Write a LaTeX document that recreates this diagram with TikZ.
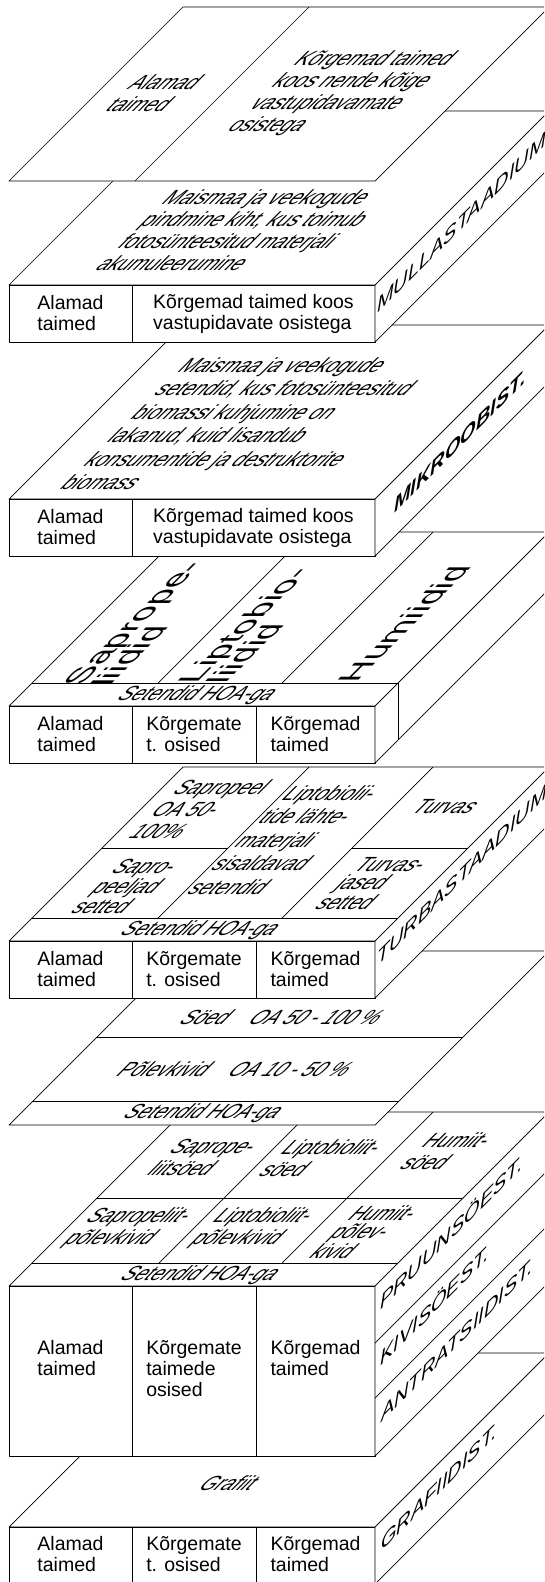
\documentclass[tikz,border=0pt]{standalone}
\usepackage{fontspec}
\setmainfont{Liberation Sans}
\usetikzlibrary{positioning}

\tikzset{
  face/.style={draw=black,fill=white,line width=0.7pt,line join=round},
  edge/.style={draw=black,line width=0.7pt},
  celltxt/.style={font=\fontsize{19.5}{21}\selectfont,align=left,inner sep=0pt},
  toptxt/.style={transform shape,xslant=1,yscale=1.05,font=\fontsize{19.5}{21}\selectfont,
    align=left,inner sep=0pt,anchor=north west},
  toptxtc/.style={toptxt,anchor=center},
  sidetxt/.style={transform shape,yslant=1,font=\fontsize{20}{22}\selectfont\itshape,
    inner sep=0pt,anchor=base west},
  bigtxt/.style={transform shape,cm={1,1,-1,0,(0,0)},font=\fontsize{30}{29}\selectfont,
    align=left,inner sep=0pt}
}

\begin{document}
\begin{tikzpicture}[x=1pt,y=1pt]
\useasboundingbox (0,0) rectangle (544,-1582);
\clip (0,0) rectangle (544,-1582);

% grafiidistaadium
\filldraw[face] (9,-1527) -- (375,-1527) -- (549,-1353) -- (183,-1353) -- cycle;
\filldraw[face] (9,-1527) rectangle (375,-1584);
\filldraw[face] (375,-1527) -- (549,-1353) -- (549,-1410) -- (375,-1584) -- cycle;
\draw[edge] (132,-1527) -- (132,-1584) (256,-1527) -- (256,-1584);
\path (230,-1483) node[toptxtc] (grafiit) {Grafiit};
\path (70.5,-1554) node[celltxt] (g1) {Alamad\\taimed};
\path (194,-1554) node[celltxt] (g2) {Kõrgemate\\t. osised};
\path (315.5,-1554) node[celltxt] (g3) {Kõrgemad\\taimed};
\path (381,-1552) node[sidetxt] (grafst) {GRAFIIDIST.};

% soed
\filldraw[face] (9,-1286) -- (375,-1286) -- (549,-1112) -- (183,-1112) -- cycle;
\filldraw[face] (9,-1286) rectangle (375,-1456);
\filldraw[face] (375,-1286) -- (549,-1112) -- (549,-1282) -- (375,-1456) -- cycle;
\draw[edge] (32,-1263) -- (398,-1263);
\draw[edge] (97,-1198) -- (463,-1198);
\draw[edge] (159,-1263) -- (310,-1112) (282,-1263) -- (433,-1112);
\draw[edge] (132,-1286) -- (132,-1456) (256,-1286) -- (256,-1456);
\draw[edge] (375,-1343) -- (549,-1169) (375,-1398) -- (549,-1224);
\path (182,-1139) node[toptxt] (s1) {Saprope-\\liitsöed};
\path (294,-1139) node[toptxt] (s2) {Liptobioliit-\\söed};
\path (435,-1132) node[toptxt] (s3) {Humiit-\\söed};
\path (99,-1207) node[toptxt] (p1) {Sapropeliit-\\põlevkivid};
\path (226,-1207) node[toptxt] (p2) {Liptobioliit-\\põlevkivid};
\path (361,-1205) node[toptxt,font=\fontsize{19.5}{17.5}\selectfont] (p3) {Humiit-\\põlev-\\kivid};
\path (200,-1275) node[toptxtc] (hoa4) {Setendid HOA-ga};
\path (70.5,-1340) node[celltxt,anchor=north] (k1) {Alamad\\taimed};
\path (194,-1340) node[celltxt,anchor=north] (k2) {Kõrgemate\\taimede\\osised};
\path (315.5,-1340) node[celltxt,anchor=north] (k3) {Kõrgemad\\taimed};
\path (380,-1311) node[sidetxt] (pruun) {PRUUNSÖEST.};
\path (380,-1367) node[sidetxt] (kivi) {KIVISÖEST.};
\path (381,-1423) node[sidetxt] (antr) {ANTRATSIIDIST.};

% soed ja polevkivid
\filldraw[face] (9,-1125) -- (375,-1125) -- (549,-951) -- (183,-951) -- cycle;
\draw[edge] (33,-1101) -- (399,-1101);
\draw[edge] (97,-1037) -- (463,-1037);
\path (283,-1017) node[toptxtc] (oa1) {Söed\hspace{1.2em}OA 50 - 100 \%};
\path (236,-1069) node[toptxtc] (oa2) {Põlevkivid\hspace{1.2em}OA 10 - 50 \%};
\path (203,-1113) node[toptxtc] (hoa3) {Setendid HOA-ga};

% turbastaadium
\filldraw[face] (9,-941) -- (375,-941) -- (549,-767) -- (183,-767) -- cycle;
\filldraw[face] (9,-941) rectangle (375,-998);
\filldraw[face] (375,-941) -- (549,-767) -- (549,-824) -- (375,-998) -- cycle;
\draw[edge] (32,-918) -- (398,-918);
\draw[edge] (158,-918) -- (309,-767) (282,-918) -- (433,-767);
\draw[edge] (102,-848) -- (228,-848) (352,-848) -- (468,-848);
\draw[edge] (132,-941) -- (132,-998) (256,-941) -- (256,-998);
\path (186,-779) node[toptxt] (t1) {Sapropeel\\OA 50-\\100\%};
\path (295,-785) node[toptxt,font=\fontsize{19.5}{22.5}\selectfont] (t2) {Liptobiolii-\\tide lähte-\\materjali\\sisaldavad\\setendid};
\path (424,-799) node[toptxt] (t3) {Turvas};
\path (124,-859) node[toptxt,font=\fontsize{19.5}{16.5}\selectfont] (t4) {Sapro-\\peeljad\\setted};
\path (366,-857) node[toptxt,font=\fontsize{19.5}{17.5}\selectfont] (t5) {Turvas-\\jased\\setted};
\path (200,-930) node[toptxtc] (hoa2) {Setendid HOA-ga};
\path (70.5,-969.5) node[celltxt] (u1) {Alamad\\taimed};
\path (194,-969.5) node[celltxt] (u2) {Kõrgemate\\t. osised};
\path (315.5,-969.5) node[celltxt] (u3) {Kõrgemad\\taimed};
\path (377,-967) node[sidetxt] (turba) {TURBASTAADIUM};

% setendid
\filldraw[face] (9,-706) -- (375,-706) -- (549,-532) -- (183,-532) -- cycle;
\filldraw[face] (9,-706) rectangle (375,-763);
\filldraw[face] (375,-706) -- (549,-532) -- (549,-589) -- (375,-763) -- cycle;
\draw[edge] (32,-683) -- (398,-683) (398,-683) -- (398,-740);
\draw[edge] (158,-683) -- (309,-532) (282,-683) -- (433,-532);
\draw[edge] (132,-706) -- (132,-763) (256,-706) -- (256,-763);
\path (147,-624) node[bigtxt] (h1) {Saprope-\\liidid};
\path (258,-626) node[bigtxt] (h2) {Liptobio-\\liidid};
\path (404,-624) node[bigtxt] (h3) {Humiidid};
\path (197,-695) node[toptxtc] (hoa1) {Setendid HOA-ga};
\path (70.5,-734.5) node[celltxt] (e1) {Alamad\\taimed};
\path (194,-734.5) node[celltxt] (e2) {Kõrgemate\\t. osised};
\path (315.5,-734.5) node[celltxt] (e3) {Kõrgemad\\taimed};

% mikroobistaadium
\filldraw[face] (9,-499) -- (375,-499) -- (549,-325) -- (183,-325) -- cycle;
\filldraw[face] (9,-499) rectangle (375,-556);
\filldraw[face] (375,-499) -- (549,-325) -- (549,-382) -- (375,-556) -- cycle;
\draw[edge] (132,-499) -- (132,-556);
\path (191,-357) node[toptxt,font=\fontsize{19.5}{22.4}\selectfont] (mk) {Maismaa ja veekogude\\setendid, kus fotosünteesitud\\biomassi kuhjumine on\\lakanud, kuid lisandub\\konsumentide ja destruktorite\\biomass};
\path (70.5,-527.5) node[celltxt] (m1) {Alamad\\taimed};
\path (253.5,-527.5) node[celltxt] (m2) {Kõrgemad taimed koos\\vastupidavate osistega};
\path (394,-514) node[sidetxt,font=\fontsize{20}{22}\selectfont\bfseries\itshape] (mikro) {MIKROOBIST.};

% mullastaadium
\filldraw[face] (9,-285) -- (375,-285) -- (549,-111) -- (183,-111) -- cycle;
\filldraw[face] (9,-285) rectangle (375,-342);
\filldraw[face] (375,-285) -- (549,-111) -- (549,-168) -- (375,-342) -- cycle;
\draw[edge] (132,-285) -- (132,-342);
\path (175,-189) node[toptxt] (ml) {Maismaa ja veekogude\\pindmine kiht, kus toimub\\fotosünteesitud materjali\\akumuleerumine};
\path (70.5,-313.5) node[celltxt] (l1) {Alamad\\taimed};
\path (253.5,-313.5) node[celltxt] (l2) {Kõrgemad taimed koos\\vastupidavate osistega};
\path (377,-314) node[sidetxt] (mulla) {MULLASTAADIUM};

% taimed
\filldraw[face] (9,-181) -- (375,-181) -- (549,-7) -- (183,-7) -- cycle;
\draw[edge] (135,-181) -- (309,-7);
\path (141,-74) node[toptxt] (a1) {Alamad\\taimed};
\path (307,-50) node[toptxt] (a2) {Kõrgemad taimed\\koos nende kõige\\vastupidavamate\\osistega};
\end{tikzpicture}
\end{document}
